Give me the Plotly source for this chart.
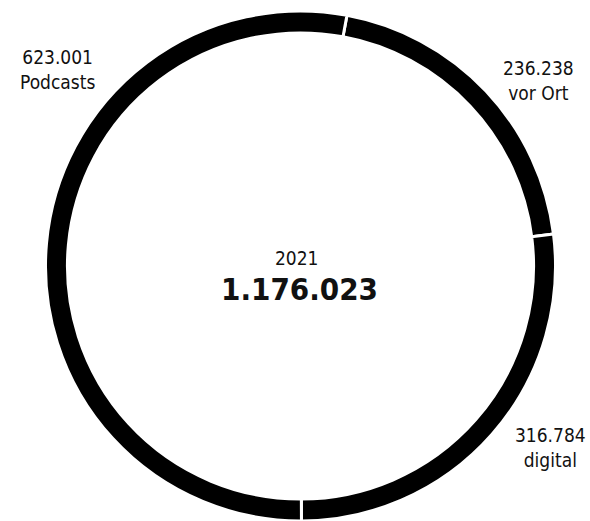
import plotly.graph_objects as go

year = "2021"
categories = ["vor Ort", "digital", "Podcasts"]
values = [236238, 316784, 623001]

W, H = 590, 521
FONT = "DejaVu Sans Condensed, Liberation Sans Narrow, Arial Narrow, sans-serif"

def fmt(v):
    return f"{v:,}".replace(",", ".")

total = sum(values)

CX, CY, R = 300.5, 266, 255
fig = go.Figure(go.Pie(
    labels=categories,
    values=values,
    sort=False,
    direction="clockwise",
    rotation=10.5,
    hole=0.914,
    marker=dict(colors=["#000000"] * len(values), line=dict(color="#ffffff", width=3)),
    textinfo="none",
    hoverinfo="label+value",
    showlegend=False,
    domain=dict(x=[(CX - R) / W, (CX + R) / W], y=[1 - (CY + R) / H, 1 - (CY - R) / H]),
))

# label positions in pixels (centre of each two-line label block)
label_pos = {"vor Ort": (538, 80), "digital": (550, 447), "Podcasts": (57, 70)}
for cat, val in zip(categories, values):
    px, py = label_pos[cat]
    fig.add_annotation(
        x=px / W, y=1 - py / H, xref="paper", yref="paper",
        text=f"{fmt(val)}<br>{cat}", showarrow=False,
        xanchor="center", yanchor="middle", align="center",
        font=dict(family=FONT, size=19, color="#111111"),
    )

fig.add_annotation(x=297 / W, y=1 - 258 / H, xref="paper", yref="paper",
                   text=year, showarrow=False, xanchor="center", yanchor="middle",
                   font=dict(family=FONT, size=19, color="#111111"))
fig.add_annotation(x=299 / W, y=1 - 289 / H, xref="paper", yref="paper",
                   text=f"<b>{fmt(total)}</b>", showarrow=False, xanchor="center", yanchor="middle",
                   font=dict(family=FONT, size=31, color="#111111"))

fig.update_layout(
    width=W, height=H,
    margin=dict(l=0, r=0, t=0, b=0),
    paper_bgcolor="#ffffff", plot_bgcolor="#ffffff",
)

fig.write_html("out.html", config={"displayModeBar": False},
               post_script="document.body.style.margin='0';")
